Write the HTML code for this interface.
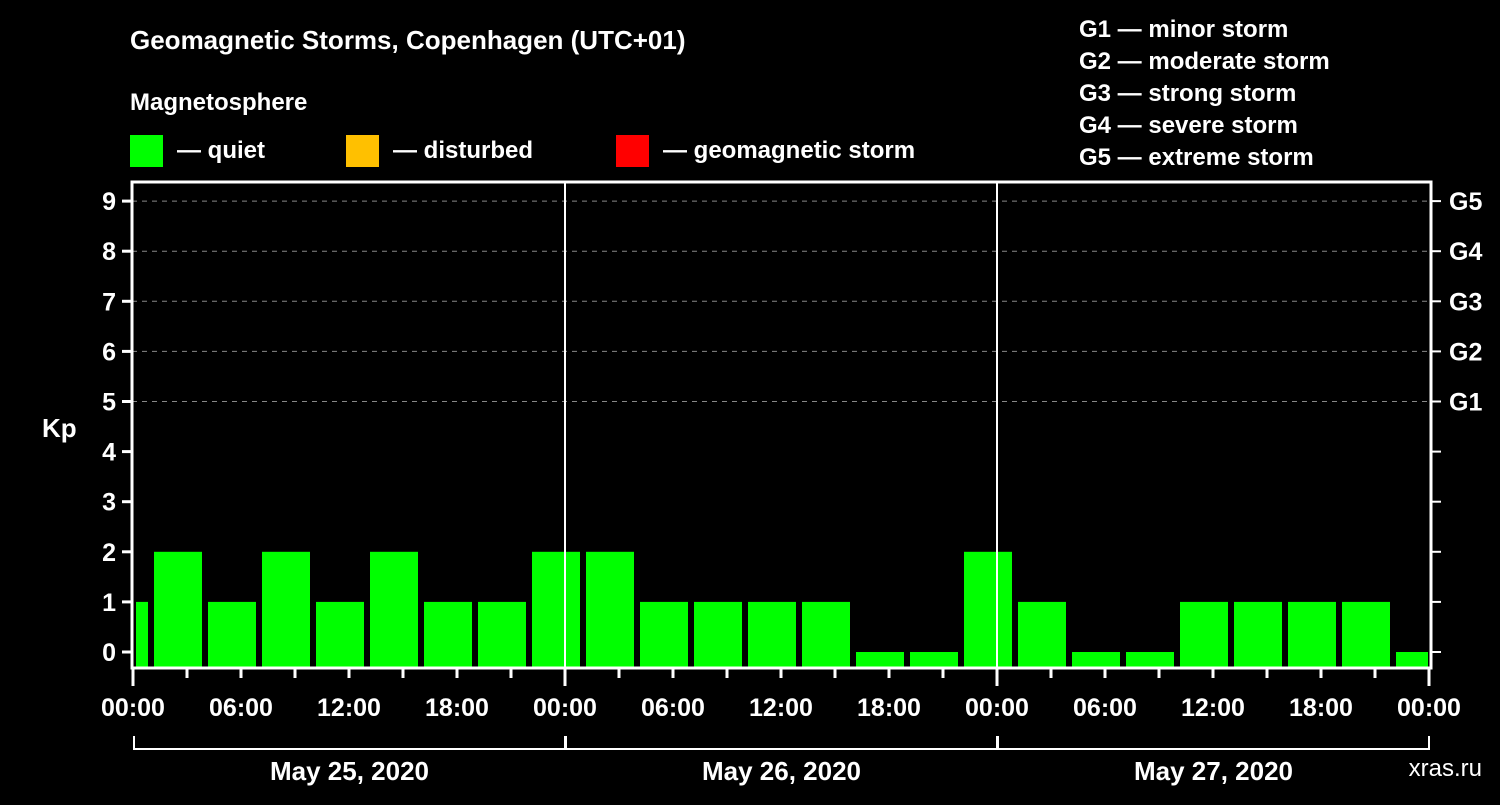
<!DOCTYPE html>
<html><head><meta charset="utf-8"><style>
body{margin:0;background:#000;width:1500px;height:800px;overflow:hidden}
svg text{font-family:"Liberation Sans",sans-serif;font-weight:bold;fill:#fff}
</style></head><body>
<svg id="c" width="1500" height="800">
<text x="130" y="49" font-size="26">Geomagnetic Storms, Copenhagen (UTC+01)</text>
<text x="130" y="110" font-size="24">Magnetosphere</text>
<rect x="130" y="135" width="33" height="32" fill="#00ff00"/>
<text x="177" y="158" font-size="24">— quiet</text>
<rect x="346" y="135" width="33" height="32" fill="#ffc000"/>
<text x="393" y="158" font-size="24">— disturbed</text>
<rect x="616" y="135" width="33" height="32" fill="#ff0000"/>
<text x="663" y="158" font-size="24">— geomagnetic storm</text>
<g font-size="24">
<text x="1079" y="37">G1 — minor storm</text>
<text x="1079" y="69">G2 — moderate storm</text>
<text x="1079" y="101">G3 — strong storm</text>
<text x="1079" y="133">G4 — severe storm</text>
<text x="1079" y="165">G5 — extreme storm</text>
</g>
<text x="42" y="437" font-size="26">Kp</text>
<text x="1482" y="776" font-size="24" text-anchor="end" fill="#fff" style="font-weight:normal">xras.ru</text>
<g id="plot"></g>
</svg>
<script>
const kpValues=[1,2,1,2,1,2,1,1,2,2,1,1,1,1,0,0,2,1,0,0,1,1,1,1,0];
const gLabels=["G1","G2","G3","G4","G5"];
const hourLabels=["00:00","06:00","12:00","18:00"];
const dayLabels=["May 25, 2020","May 26, 2020","May 27, 2020"];
const NS="http://www.w3.org/2000/svg";
const g=document.getElementById('plot');
const X0=133,PXH=18,Y0=652,PKP=50.1,TOP=182,BOT=668,L=132,R=1431;
const xs=h=>X0+h*PXH, ys=k=>Y0-k*PKP;
function mk(t,a){const e=document.createElementNS(NS,t);for(const k in a)e.setAttribute(k,a[k]);g.appendChild(e);return e;}
// grid
for(let k=5;k<=9;k++){const e=mk('line',{x1:L,x2:R,y1:ys(k),y2:ys(k),stroke:'#888','stroke-dasharray':'5,5','stroke-width':1});

}
// bars: first block starts at -2h (UTC 3h blocks shifted +1h)
kpValues.forEach((v,i)=>{let h0=-2+i*3,h1=h0+3;let x1=Math.max(xs(h0)+3,L+4),x2=Math.min(xs(h1)-3,R-3);
const top=v>0?ys(v):Y0;const e=mk('rect',{x:x1,y:top,width:x2-x1,height:BOT-1-top,fill:'#00ff00'});

});
// day separators
for(let d=1;d<3;d++){const e=mk('line',{x1:xs(d*24),x2:xs(d*24),y1:TOP,y2:BOT,stroke:'#fff','stroke-width':2});

}
// frame
const fr=mk('rect',{x:L,y:TOP,width:R-L,height:BOT-TOP,fill:'none',stroke:'#fff','stroke-width':3});


// y ticks
for(let k=0;k<=9;k++){mk('line',{x1:L-10,x2:L,y1:ys(k),y2:ys(k),stroke:'#fff','stroke-width':3});
mk('line',{x1:R,x2:R+10,y1:ys(k),y2:ys(k),stroke:'#fff','stroke-width':2});
const t=mk('text',{x:116,y:ys(k)+9,'font-size':25,'text-anchor':'end'});t.textContent=k;

}
gLabels.forEach((s,i)=>{const t=mk('text',{x:1449,y:ys(5+i)+9,'font-size':25});t.textContent=s;

});
// x ticks
for(let h=0;h<=72;h+=3){const big=h%24==0;mk('line',{x1:xs(h),x2:xs(h),y1:BOT,y2:BOT+(big?18:10),stroke:'#fff','stroke-width':3});}
for(let h=0;h<=72;h+=6){const t=mk('text',{x:xs(h),y:716,'font-size':25,'text-anchor':'middle'});t.textContent=hourLabels[(h/6)%4];

}
// day brackets
dayLabels.forEach((s,d)=>{const a=xs(d*24)+1,b=xs(d*24+24);
mk('path',{d:`M${a} 736V749H${b}V736`,fill:'none',stroke:'#fff','stroke-width':2});
const t=mk('text',{x:(a+b)/2,y:780,'font-size':26,'text-anchor':'middle'});t.textContent=s;

});
</script>
</body></html>
